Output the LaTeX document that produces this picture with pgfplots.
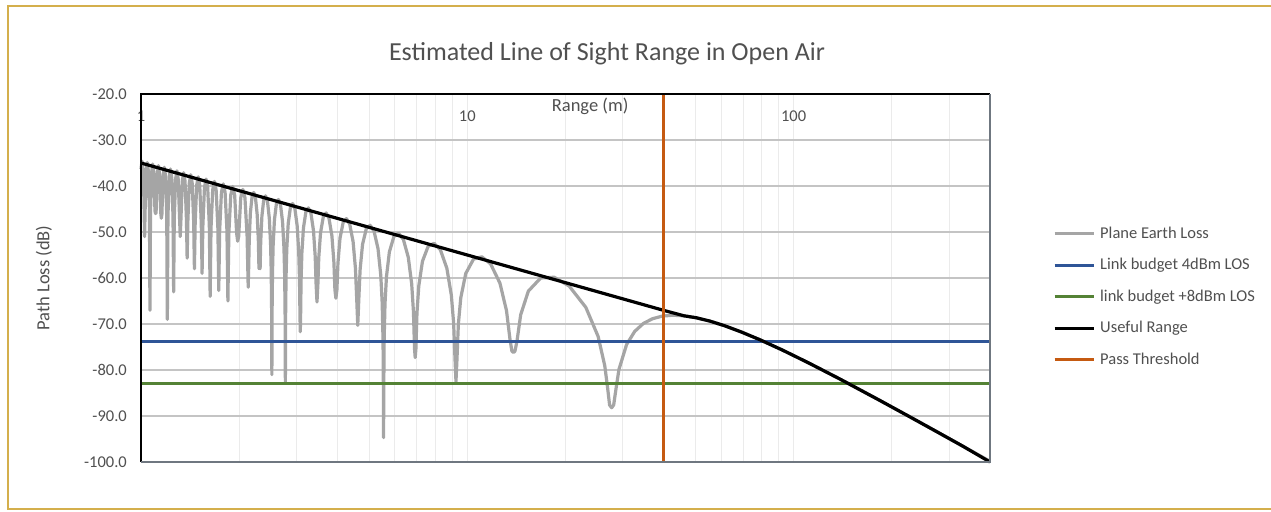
\documentclass[border=0pt]{standalone}
\usepackage{fontspec}
\setmainfont{Carlito}
\usepackage{pgfplots}
\usepackage{pgfplotstable}
\pgfplotsset{compat=1.18}
\definecolor{txt}{HTML}{505050}
\definecolor{hgrid}{HTML}{C4C4C4}
\definecolor{vgrid}{HTML}{EBEBEB}
\definecolor{pgray}{HTML}{A5A5A5}
\definecolor{pblue}{HTML}{2F5597}
\definecolor{pgreen}{HTML}{548235}
\definecolor{porange}{HTML}{C55A11}
\definecolor{frame}{HTML}{D4AF4C}
\definecolor{axgray}{HTML}{6F7780}
\newcommand\fs{\fontsize{16.5bp}{19bp}\selectfont}
\newcommand\fl{\fontsize{18.5bp}{21bp}\selectfont}
\newcommand\ft{\fontsize{26bp}{30bp}\selectfont}

\pgfplotstableread{
d v
1 -36.3
1.0073 -34.6
1.0128 -35.6
1.0184 -39.3
1.0221 -44.9
1.0259 -51
1.0297 -45.09
1.0375 -36.73
1.0453 -34.89
1.0532 -36.73
1.0613 -45.09
1.0654 -67
1.0695 -45.42
1.0778 -37.06
1.0863 -35.22
1.0949 -37.06
1.1036 -45.42
1.108 -46
1.1124 -45.77
1.1215 -37.41
1.1306 -35.57
1.1399 -37.41
1.1494 -45.77
1.1542 -47
1.1590 -46.13
1.1688 -37.77
1.1787 -35.93
1.1888 -37.77
1.1991 -46.13
1.2043 -69
1.2096 -46.51
1.2203 -38.15
1.2311 -36.31
1.2422 -38.15
1.2534 -46.51
1.2591 -63
1.2648 -46.90
1.2765 -38.54
1.2884 -36.70
1.3005 -38.54
1.3128 -46.90
1.3190 -51
1.3254 -47.32
1.3382 -38.96
1.3512 -37.12
1.3645 -38.96
1.3781 -47.32
1.385 -55.7
1.3920 -47.75
1.4061 -39.39
1.4205 -37.55
1.4352 -39.39
1.4503 -47.75
1.4579 -58
1.4656 -48.21
1.4813 -39.85
1.4973 -38.01
1.5137 -39.85
1.5304 -48.21
1.5389 -59
1.5475 -48.69
1.5650 -40.33
1.5829 -38.49
1.6012 -40.33
1.6199 -48.69
1.6294 -64
1.6391 -49.20
1.6587 -40.84
1.6788 -39.00
1.6994 -40.84
1.7205 -49.20
1.7313 -62.7
1.7421 -49.74
1.7643 -41.38
1.7871 -39.54
1.8105 -41.38
1.8344 -49.74
1.8467 -65
1.8591 -50.32
1.8844 -41.96
1.9103 -40.12
1.9371 -41.96
1.9645 -50.32
1.9786 -52
1.9928 -50.94
2.0219 -42.58
2.0519 -40.74
2.0827 -42.58
2.1145 -50.94
2.1308 -62
2.1390 -57.21
2.1473 -51.34
2.1641 -45.82
2.1897 -42.31
2.2160 -41.41
2.2429 -42.52
2.2705 -46.23
2.2893 -51.89
2.2988 -57.84
2.3083 -58
2.3180 -57.91
2.3277 -52.04
2.3475 -46.52
2.3777 -43.02
2.4087 -42.14
2.4405 -43.25
2.4732 -46.98
2.4955 -52.64
2.5068 -58.59
2.5136 -66.55
2.5182 -81
2.5228 -66.58
2.5297 -58.67
2.5413 -52.80
2.5648 -47.29
2.6009 -43.80
2.6381 -42.93
2.6763 -44.05
2.7157 -47.79
2.7426 -53.46
2.7562 -59.42
2.7645 -67.37
2.77 -82.7
2.7756 -67.41
2.7839 -59.50
2.7980 -53.64
2.8265 -48.14
2.8705 -44.66
2.9158 -43.80
2.9626 -44.93
3.0109 -48.68
3.0440 -54.37
3.0608 -60.33
3.0710 -68.29
3.0778 -71.7
3.0846 -68.32
3.0950 -60.42
3.1124 -54.56
3.1477 -49.07
3.2023 -45.61
3.2588 -44.76
3.3174 -45.92
3.3780 -49.68
3.4198 -55.38
3.4410 -61.34
3.4625 -65.2
3.4843 -61.45
3.5063 -55.60
3.5513 -50.12
3.6209 -46.68
3.6933 -45.85
3.7687 -47.02
3.8472 -50.81
3.9014 -56.53
3.9291 -62.50
3.9571 -64.4
3.9856 -62.62
4.0145 -56.77
4.0735 -51.31
4.1654 -47.89
4.2615 -47.09
4.3622 -48.29
4.4677 -52.11
4.5410 -57.84
4.5785 -63.82
4.6167 -70.3
4.6555 -63.97
4.6949 -58.13
4.7759 -52.69
4.9027 -49.31
5.0364 -48.54
5.1776 -49.78
5.3269 -53.64
5.4314 -59.40
5.4851 -65.39
5.5179 -73.38
5.5345 -85.44
5.54 -94.7
5.5455 -85.46
5.5622 -73.45
5.5960 -65.57
5.6531 -59.75
5.7708 -54.34
5.9570 -51.00
6.1556 -50.29
6.3678 -51.58
6.5952 -55.50
6.7561 -61.29
6.8395 -67.31
6.8905 -75.31
6.925 -77.3
6.9598 -75.39
7.0127 -67.53
7.1026 -61.73
7.2895 -56.36
7.5890 -53.10
7.9143 -52.47
8.2687 -53.85
8.6563 -57.86
8.9355 -63.72
9.0820 -69.77
9.1722 -77.79
9.2333 -82.5
9.2953 -77.91
9.3898 -70.06
9.5517 -64.30
9.8929 -59.02
10.453 -55.89
11.08 -55.39
11.787 -56.93
12.591 -61.11
13.190 -67.11
13.512 -73.23
13.70 -75.9
13.85 -76.2
14.00 -75.9
14.205 -73.66
14.579 -67.98
15.389 -62.85
16.788 -60.00
18.467 -59.83
20.519 -61.74
23.083 -66.38
25.182 -72.72
26.381 -79.04
26.893 -83.62
27.3 -87.6
27.7 -88.2
28.1 -87.6
28.557 -84.14
29.158 -79.90
30.778 -74.47
32.588 -71.62
34.625 -69.90
36.933 -68.86
39.571 -68.29
42.615 -68.09
46.167 -68.22
50.364 -68.65
55.4 -69.37
61.556 -70.39
69.25 -71.75
79.143 -73.47
92.333 -75.65
110.8 -78.40
138.5 -81.94
184.67 -86.69
230 -90.39
277 -93.55
330 -96.55
400 -99.85
}\planeearth

\pgfplotstableread{
d v
1 -35
40 -67.04
46.167 -68.22
50.364 -68.65
55.4 -69.37
61.556 -70.39
69.25 -71.75
79.143 -73.47
92.333 -75.65
110.8 -78.40
138.5 -81.94
184.67 -86.69
230 -90.39
277 -93.55
330 -96.55
400 -100
}\useful

\begin{document}
\begin{tikzpicture}
\useasboundingbox (0,0) rectangle (1271bp,512bp);
\fill[white] (0,0) rectangle (1271bp,512bp);
\draw[color=frame, line width=2bp] (8bp,3bp) rectangle (1285bp,506bp);
\begin{axis}[
  at={(141bp,50bp)}, anchor=south west,
  width=849bp, height=368bp, scale only axis,
  clip=false,
  xmode=log, log basis x=10,
  xmin=1, xmax=400, ymin=-100, ymax=-20,
  xtick={1,10,100}, xticklabels={1,10,100},
  minor xtick={2,3,4,5,6,7,8,9,10,20,30,40,50,60,70,80,90,100,200,300},
  ytick={-100,-90,-80,-70,-60,-50,-40,-30,-20},
  yticklabels={-100.0,-90.0,-80.0,-70.0,-60.0,-50.0,-40.0,-30.0,-20.0},
  xminorgrids=true, ymajorgrids=true,
  minor grid style={color=vgrid, line width=1bp},
  major grid style={color=hgrid, line width=1.2bp},
  tick style={draw=none},
  axis line style={draw=none},
  xticklabel pos=upper,
  xticklabel style={anchor=center, yshift=-22bp, font=\fs, text=txt},
  yticklabel style={anchor=east, inner sep=0pt, xshift=-14bp, font=\fs, text=txt},
  xlabel={Range (m)},
  xlabel style={at={(rel axis cs:0.529,0.967)}, anchor=center, font=\fl, text=txt},
  ylabel={Path Loss (dB)},
  ylabel style={at={(rel axis cs:-0.1143,0.5)}, anchor=center, font=\fl, text=txt},
  title={Estimated Line of Sight Range in Open Air},
  title style={at={(rel axis cs:0.5489,1.1114)}, anchor=center, yshift=-7bp, font=\ft, text=txt},
  legend style={draw=none, fill=none, inner sep=0pt, at={(rel axis cs:1.0742,0.4484)}, anchor=west,
    font=\fs, text=txt, row sep=16bp,
    nodes={inner sep=0pt, text height=12bp, text depth=3.5bp, anchor=base west}},
  legend cell align=left,
  /tikz/every odd column/.append style={column sep=5bp},
  legend image code/.code={\draw[#1, line width=3bp] (0bp,4.5bp) -- (39bp,4.5bp);},
]
\addplot[color=pgray, line width=3.2bp, line join=round] table[x=d, y=v] {\planeearth};
\addlegendentry{Plane Earth Loss}
\addplot[color=pblue, line width=3.2bp] coordinates {(1,-73.8) (400,-73.8)};
\addlegendentry{Link budget 4dBm LOS}
\addplot[color=pgreen, line width=3.2bp] coordinates {(1,-83) (400,-83)};
\addlegendentry{link budget +8dBm LOS}
\addplot[color=black, line width=3.2bp, line join=round] table[x=d, y=v] {\useful};
\addlegendentry{Useful Range}
\addplot[color=porange, line width=3.2bp] coordinates {(40,-20) (40,-100)};
\addlegendentry{Pass Threshold}
\draw[black, line width=1.4bp] (rel axis cs:0,0) -- (rel axis cs:0,1) -- (rel axis cs:1,1);
\draw[axgray, line width=1.4bp] (rel axis cs:0,0) -- (rel axis cs:1,0) -- (rel axis cs:1,1);
\end{axis}
\end{tikzpicture}
\end{document}
